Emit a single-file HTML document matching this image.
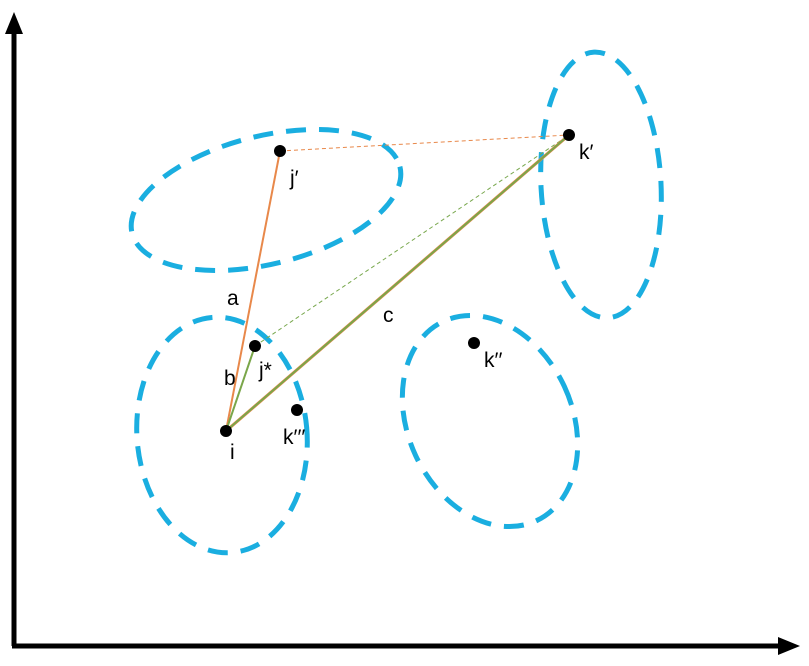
<!DOCTYPE html>
<html><head><meta charset="utf-8"><style>
html,body{margin:0;padding:0;background:#fff;width:809px;height:666px;overflow:hidden}
svg{display:block}
text{font-family:"Liberation Sans",sans-serif;font-size:21px;fill:#000}
</style></head><body>
<svg id="chart" width="809" height="666" viewBox="0 0 809 666">
<g id="ell"></g>
<g id="lines"></g>
<g id="pts"></g>
<g>
<line x1="14" y1="646" x2="14" y2="30" stroke="#000" stroke-width="5"/>
<polygon points="14,12 5,34 23,34" fill="#000"/>
<line x1="12" y1="646" x2="785" y2="646" stroke="#000" stroke-width="5"/>
<polygon points="800,646 778,637 778,655" fill="#000"/>
</g>
</svg>
<script>
const pointNames=["i","j'","j*","k'","k''","k'''"];
const pointX=[226,280,255,569,474,297];
const pointY=[431,151,346,135,343,410];
const labelText=["i","j′","j*","k′","k′′","k′′′"];
const ellCx=[266,601,222,490];
const ellCy=[200,185,435,421];
const ellRx=[138,60,85,82];
const ellRy=[64,133,118,110];
const ellRot=[-14,-3,-5,-25];
const NS="http://www.w3.org/2000/svg";
const eg=document.getElementById('ell');
ellCx.forEach((cx,k)=>{
 const e=document.createElementNS(NS,'ellipse');
 
 
 e.setAttribute('cx',cx);e.setAttribute('cy',ellCy[k]);
 e.setAttribute('rx',ellRx[k]);e.setAttribute('ry',ellRy[k]);
 e.setAttribute('transform','rotate('+ellRot[k]+' '+cx+' '+ellCy[k]+')');
 e.setAttribute('fill','none');e.setAttribute('stroke','#1aaee0');
 e.setAttribute('stroke-width','5');e.setAttribute('stroke-dasharray','20 13');
 eg.appendChild(e);
});
const lg=document.getElementById('lines');
function ln(a,b,col,w,dash,name){
 const l=document.createElementNS(NS,'line');
 
 
 l.setAttribute('x1',pointX[a]);l.setAttribute('y1',pointY[a]);
 l.setAttribute('x2',pointX[b]);l.setAttribute('y2',pointY[b]);
 l.setAttribute('stroke',col);l.setAttribute('stroke-width',w);
 if(dash)l.setAttribute('stroke-dasharray',dash);
 lg.appendChild(l);
}
ln(1,3,'#e8884a',1,'4 3','dashed-jprime-kprime');
ln(2,3,'#79a84e',1,'4 3','dashed-jstar-kprime');
ln(0,1,'#e8884a',2,null,'line-a');
ln(0,3,'#e8884a',3,null,'line-c-orange');
ln(0,3,'#7aa64a',2,null,'line-c-green');
ln(0,2,'#7aa64a',2,null,'line-b');
const pg=document.getElementById('pts');
const lblDx=[4,10,4,10,10,-14];
const lblDy=[28,34,31,24,24,34];
pointX.forEach((x,k)=>{
 const c=document.createElementNS(NS,'circle');
 
 
 c.setAttribute('cx',x);c.setAttribute('cy',pointY[k]);c.setAttribute('r',6);
 c.setAttribute('fill','#000');pg.appendChild(c);
 const t=document.createElementNS(NS,'text');
 
 
 t.setAttribute('x',x+lblDx[k]);t.setAttribute('y',pointY[k]+lblDy[k]);
 t.textContent=labelText[k];pg.appendChild(t);
});
[["a",227,305],["b",224,385],["c",383,322]].forEach(v=>{
 const t=document.createElementNS(NS,'text');
 
 
 t.setAttribute('x',v[1]);t.setAttribute('y',v[2]);t.textContent=v[0];pg.appendChild(t);
});
</script>
</body></html>
